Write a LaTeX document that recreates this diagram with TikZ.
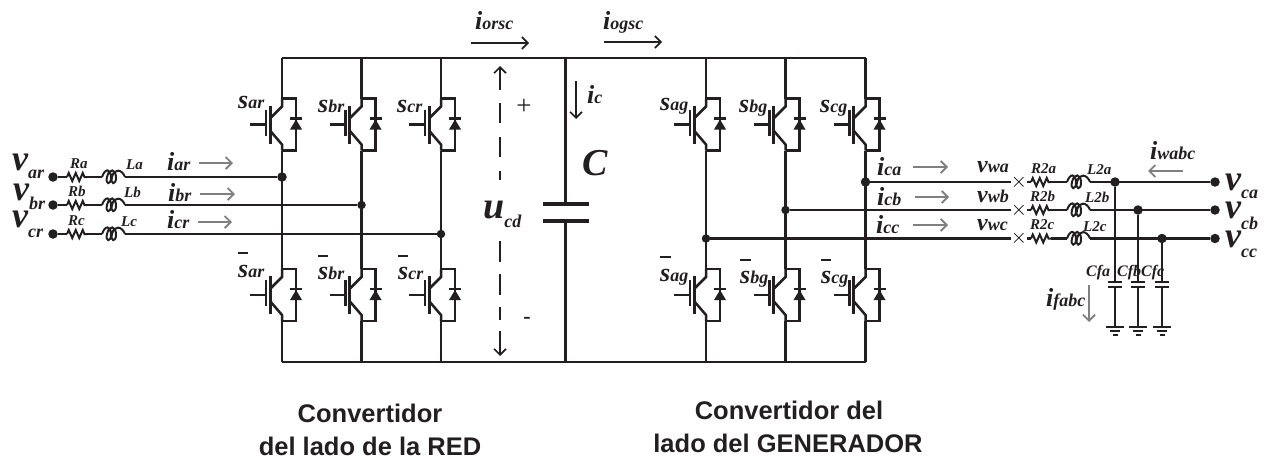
\documentclass[tikz,border=0pt]{standalone}
\usepackage{fontspec}
\setmainfont{Liberation Serif}
\newfontfamily\captionfont{Liberation Sans}
\usetikzlibrary{arrows.meta,decorations.pathmorphing}

\definecolor{wirecol}{HTML}{231F20}
\definecolor{flowcol}{HTML}{808080}

\newcommand{\bigbf}[1]{{\fontsize{26}{26}\selectfont\bfseries\itshape #1}}
\newcommand{\smallbf}[1]{{\fontsize{18}{18}\selectfont\bfseries\itshape #1}}
\newcommand{\hugebf}[1]{{\fontsize{36}{36}\selectfont\bfseries\itshape #1}}
\newcommand{\sublow}[2]{\raisebox{#1}{\fontsize{18}{18}\selectfont\bfseries\itshape #2}}

\tikzset{
    wire/.style={draw=wirecol, line width=2.5pt},
    heavy/.style={draw=wirecol, line width=2.9pt},
    flow/.style={draw=flowcol, line width=1.8pt, -{Straight Barb[length=6pt,width=12pt]}},
    blackflow/.style={draw=wirecol, line width=1.6pt, -{Straight Barb[length=6pt,width=12pt]}},
    lbl/.style={anchor=base west, inner sep=0pt, text=wirecol},
    elem/.style={lbl, font=\fontsize{15}{15}\selectfont\itshape\bfseries},
    dot/.style={circle, fill=wirecol, inner sep=0pt, minimum size=9.5pt},
    resist/.style={wire, line width=2pt, decorate, decoration={zigzag, segment length=7pt, amplitude=4pt}},
    inductor/.pic={
        \draw [wire, line width=2pt] (0,0) .. controls (3,-9) and (9,-9) .. (9,1)
            .. controls (9,8) and (3,8) .. (5,0)
            .. controls (7,-9) and (14,-9) .. (14,1)
            .. controls (14,8) and (8,8) .. (10,0)
            .. controls (12,-9) and (20,-8) .. (23,0);
    },
    igbt/.pic={
        \draw [wire] (0,-26) -- (14,-26) -- (14,26) -- (0,26);
        \draw [wire] (0,-26) -- (0,-18) -- (-12,-6);
        \draw [wire] (0,26) -- (0,20) -- (-12,6);
        \draw [wire, line width=3pt] (-12,-19) -- (-12,19);
        \draw [wire] (-16,-15) -- (-16,11);
        \draw [wire] (-32,0) -- (-16,0);
        \fill [wirecol] (14,-5) -- (20,5) -- (8,5) -- cycle;
        \draw [wire] (8,-6) -- (20,-6);
    },
    gnd/.pic={
        \draw [wire] (-9,0) -- (9,0);
        \draw [wire, line width=2pt] (-5,4) -- (5,4);
        \draw [wire, line width=2pt] (-2.5,8) -- (2.5,8);
    },
}

\begin{document}
\begin{tikzpicture}[x=1pt, y=-1pt]
    \useasboundingbox (0,0) rectangle (1269,458);

    % dc bus
    \coordinate (topl) at (282,58);
    \coordinate (topr) at (865.5,58);
    \coordinate (botl) at (282,362);
    \coordinate (botr) at (865.5,362);
    \draw [wire] (topl) -- (topr);
    \draw [heavy] (botl) -- (botr);

    % grid side bridge
    \pic at (282,124.5) {igbt};
    \pic at (361.5,124.5) {igbt};
    \pic at (441,124.5) {igbt};
    \pic at (282,295) {igbt};
    \pic at (361.5,295) {igbt};
    \pic at (441,295) {igbt};

    % generator side bridge
    \pic at (706,124.5) {igbt};
    \pic at (785.5,124.5) {igbt};
    \pic at (865.5,124.5) {igbt};
    \pic at (706,295) {igbt};
    \pic at (785.5,295) {igbt};
    \pic at (865.5,295) {igbt};

    % legs
    \draw [wire] (282,58) -- (282,98.5) (282,150.5) -- (282,269) (282,321) -- (282,362);
    \draw [wire] (361.5,58) -- (361.5,98.5) (361.5,150.5) -- (361.5,269) (361.5,321) -- (361.5,362);
    \draw [wire] (441,58) -- (441,98.5) (441,150.5) -- (441,269) (441,321) -- (441,362);
    \draw [wire] (706,58) -- (706,98.5) (706,150.5) -- (706,269) (706,321) -- (706,362);
    \draw [wire] (785.5,58) -- (785.5,98.5) (785.5,150.5) -- (785.5,269) (785.5,321) -- (785.5,362);
    \draw [wire] (865.5,58) -- (865.5,98.5) (865.5,150.5) -- (865.5,269) (865.5,321) -- (865.5,362);

    % grid side phases
    \node [dot] (vara) at (53,177) {};
    \node [dot] (varb) at (53,205) {};
    \node [dot] (varc) at (53,234) {};
    \node [dot] (jara) at (282,177) {};
    \node [dot, minimum size=8.5pt] (jarb) at (361.5,205) {};
    \node [dot, minimum size=8.5pt] (jarc) at (441,234) {};

    \coordinate (raa) at (67,177);
    \coordinate (rab) at (87,177);
    \coordinate (laa) at (102,177);
    \coordinate (lab) at (125,177);
    \coordinate (rba) at (67,205);
    \coordinate (rbb) at (87,205);
    \coordinate (lba) at (102,205);
    \coordinate (lbb) at (125,205);
    \coordinate (rca) at (67,234);
    \coordinate (rcb) at (87,234);
    \coordinate (lca) at (102,234);
    \coordinate (lcb) at (125,234);

    \draw [wire] (vara) -- (raa);
    \draw [resist] (raa) -- (rab);
    \draw [wire] (rab) -- (laa);
    \pic at (laa) {inductor};
    \draw [heavy] (lab) -- (jara);
    \draw [wire] (varb) -- (rba);
    \draw [resist] (rba) -- (rbb);
    \draw [wire] (rbb) -- (lba);
    \pic at (lba) {inductor};
    \draw [wire] (lbb) -- (jarb);
    \draw [wire] (varc) -- (rca);
    \draw [resist] (rca) -- (rcb);
    \draw [wire] (rcb) -- (lca);
    \pic at (lca) {inductor};
    \draw [wire] (lcb) -- (jarc);

    % generator side phases
    \node [dot] (jaca) at (865.5,182) {};
    \node [dot, minimum size=8.5pt] (jacb) at (785.5,210) {};
    \node [dot, minimum size=8.5pt] (jacc) at (706,238.5) {};
    \node [inner sep=0pt, font=\fontsize{22}{22}\selectfont] (xa) at (1019,182) {$\times$};
    \node [inner sep=0pt, font=\fontsize{22}{22}\selectfont] (xb) at (1019,210) {$\times$};
    \node [inner sep=0pt, font=\fontsize{22}{22}\selectfont] (xc) at (1019,238.5) {$\times$};
    \node [dot] (vca) at (1215,182) {};
    \node [dot] (vcb) at (1215,210) {};
    \node [dot] (vcc) at (1215,238.5) {};
    \node [dot] (jfa) at (1115,182) {};
    \node [dot] (jfb) at (1138,210) {};
    \node [dot] (jfc) at (1162,238.5) {};

    \coordinate (r2aa) at (1031,182);
    \coordinate (r2ab) at (1051,182);
    \coordinate (l2aa) at (1067,182);
    \coordinate (l2ab) at (1090,182);
    \coordinate (r2ba) at (1031,210);
    \coordinate (r2bb) at (1051,210);
    \coordinate (l2ba) at (1067,210);
    \coordinate (l2bb) at (1090,210);
    \coordinate (r2ca) at (1031,238.5);
    \coordinate (r2cb) at (1051,238.5);
    \coordinate (l2ca) at (1067,238.5);
    \coordinate (l2cb) at (1090,238.5);

    \draw [heavy] (jaca) -- (xa);
    \draw [wire] (xa) -- (r2aa);
    \draw [resist] (r2aa) -- (r2ab);
    \draw [wire] (r2ab) -- (l2aa);
    \pic at (l2aa) {inductor};
    \draw [heavy] (l2ab) -- (vca);
    \draw [wire] (jacb) -- (xb);
    \draw [wire] (xb) -- (r2ba);
    \draw [resist] (r2ba) -- (r2bb);
    \draw [wire] (r2bb) -- (l2ba);
    \pic at (l2ba) {inductor};
    \draw [wire] (l2bb) -- (vcb);
    \draw [wire] (jacc) -- (xc);
    \draw [wire] (xc) -- (r2ca);
    \draw [resist] (r2ca) -- (r2cb);
    \draw [wire] (r2cb) -- (l2ca);
    \pic at (l2ca) {inductor};
    \draw [wire] (l2cb) -- (vcc);

    % filter capacitors
    \coordinate (cfat) at (1115,282);
    \coordinate (cfab) at (1115,286.5);
    \coordinate (gfa) at (1115,327);
    \coordinate (cfbt) at (1138,282);
    \coordinate (cfbb) at (1138,286.5);
    \coordinate (gfb) at (1138,327);
    \coordinate (cfct) at (1162,282);
    \coordinate (cfcb) at (1162,286.5);
    \coordinate (gfc) at (1162,327);
    \draw [wire] (jfa) -- (cfat) (cfab) -- (gfa);
    \draw [wire] (jfb) -- (cfbt) (cfbb) -- (gfb);
    \draw [wire] (jfc) -- (cfct) (cfcb) -- (gfc);
    \draw [wire, line width=2pt] (1108,282) -- (1122,282) (1108,286.5) -- (1122,286.5);
    \draw [wire, line width=2pt] (1131,282) -- (1145,282) (1131,286.5) -- (1145,286.5);
    \draw [wire, line width=2pt] (1155,282) -- (1169,282) (1155,286.5) -- (1169,286.5);
    \pic at (1115,327) {gnd};
    \pic at (1138,327) {gnd};
    \pic at (1162,327) {gnd};

    % dc capacitor
    \coordinate (capt) at (565.5,204);
    \coordinate (capb) at (565.5,221);
    \draw [wire] (565.5,58) -- (capt);
    \draw [wire] (capb) -- (565.5,362);
    \draw [wire, line width=4.5pt] (543,204) -- (589,204);
    \draw [wire, line width=4.5pt] (543,221) -- (589,221);

    % dc voltage
    \coordinate (ucdt) at (500,66);
    \coordinate (ucdm) at (500,90);
    \coordinate (ucde) at (500,180);
    \coordinate (ucdf) at (500,241);
    \coordinate (ucdg) at (500,331);
    \coordinate (ucdb) at (500,356);
    \draw [blackflow] (ucdm) -- (ucdt);
    \draw [wirecol, line width=1.8pt, dash pattern=on 20pt off 14pt] (500,103) -- (ucde);
    \draw [wirecol, line width=1.8pt, dash pattern=on 21pt off 12pt] (ucdf) -- (500,320);
    \draw [blackflow] (ucdg) -- (ucdb);

    % current arrows
    \coordinate (oa) at (471,43);
    \coordinate (ob) at (529,43);
    \coordinate (oc) at (604,42);
    \coordinate (od) at (662,42);
    \draw [blackflow] (oa) -- (ob);
    \draw [blackflow] (oc) -- (od);
    \coordinate (ca) at (576,81);
    \coordinate (cb) at (576,119);
    \draw [blackflow] (ca) -- (cb);

    \coordinate (fa1) at (199,163);
    \coordinate (fa2) at (233,163);
    \coordinate (fb1) at (200,194);
    \coordinate (fb2) at (235,194);
    \coordinate (fc1) at (198,222);
    \coordinate (fc2) at (232,222);
    \draw [flow] (fa1) -- (fa2);
    \draw [flow] (fb1) -- (fb2);
    \draw [flow] (fc1) -- (fc2);
    \coordinate (ga1) at (913,167);
    \coordinate (ga2) at (948,167);
    \coordinate (gb1) at (915,197);
    \coordinate (gb2) at (949,197);
    \coordinate (gc1) at (913,225);
    \coordinate (gc2) at (948,225);
    \draw [flow] (ga1) -- (ga2);
    \draw [flow] (gb1) -- (gb2);
    \draw [flow] (gc1) -- (gc2);
    \coordinate (wa) at (1183,171);
    \coordinate (wb) at (1148,171);
    \draw [flow] (wa) -- (wb);
    \coordinate (fa) at (1089,285);
    \coordinate (fb) at (1089,322);
    \draw [flow] (fa) -- (fb);

    % labels, grid side
    \node [lbl] (lvar) at (12,170) {\hugebf{v}\sublow{-8pt}{ar}};
    \node [lbl] (lvbr) at (13,200) {\hugebf{v}\sublow{-9pt}{br}};
    \node [lbl] (lvcr) at (12,227) {\hugebf{v}\sublow{-10pt}{cr}};
    \node [elem] (lra) at (70,168) {Ra};
    \node [elem] (lrb) at (68,196) {Rb};
    \node [elem] (lrc) at (68,225) {Rc};
    \node [elem] (lla) at (126,169) {La};
    \node [elem] (llb) at (124,197) {Lb};
    \node [elem] (llc) at (121,226) {Lc};
    \node [lbl] (liar) at (167,170) {\bigbf{i}\smallbf{ar}};
    \node [lbl] (libr) at (168,201) {\bigbf{i}\smallbf{br}};
    \node [lbl] (licr) at (167,228) {\bigbf{i}\smallbf{cr}};

    % switch labels
    \node [lbl] (lsar) at (238,108) {\bigbf{s}\smallbf{ar}};
    \node [lbl] (lsbr) at (318,112) {\bigbf{s}\smallbf{br}};
    \node [lbl] (lscr) at (397,112) {\bigbf{s}\smallbf{cr}};
    \node [lbl] (lsag) at (660,110) {\bigbf{s}\smallbf{ag}};
    \node [lbl] (lsbg) at (739,112) {\bigbf{s}\smallbf{bg}};
    \node [lbl] (lscg) at (820,112) {\bigbf{s}\smallbf{cg}};
    \node [lbl] (lnar) at (238,277) {\bigbf{s}\smallbf{ar}};
    \node [lbl] (lnbr) at (318,279) {\bigbf{s}\smallbf{br}};
    \node [lbl] (lncr) at (398,279) {\bigbf{s}\smallbf{cr}};
    \node [lbl] (lnag) at (660,281) {\bigbf{s}\smallbf{ag}};
    \node [lbl] (lnbg) at (740,283) {\bigbf{s}\smallbf{bg}};
    \node [lbl] (lncg) at (821,283) {\bigbf{s}\smallbf{cg}};
    \draw [wire] (238,253) -- (248,253);
    \draw [wire] (318,256) -- (328,256);
    \draw [wire] (398,256) -- (408,256);
    \draw [wire] (660,257) -- (671,257);
    \draw [wire] (740,260) -- (751,260);
    \draw [wire] (821,260) -- (831,260);

    % labels, dc link
    \node [lbl] (liorsc) at (475,29) {\bigbf{i}\smallbf{orsc}};
    \node [lbl] (liogsc) at (603,29) {\bigbf{i}\smallbf{ogsc}};
    \node [lbl] (lic) at (587,103) {\bigbf{i}\smallbf{c}};
    \node [lbl] (lc) at (582,175) {{\fontsize{38}{38}\selectfont\bfseries\itshape C}};
    \node [lbl] (lucd) at (483,218) {{\fontsize{38}{38}\selectfont\bfseries\itshape u}\sublow{-9pt}{cd}};
    \node [inner sep=0pt, font=\fontsize{27}{27}\selectfont, text=wirecol] (lplus) at (524,107) {+};
    \node [inner sep=0pt, font=\fontsize{22}{22}\selectfont\bfseries, text=wirecol] (lminus) at (527,320) {-};

    % labels, generator side
    \node [lbl] (lica) at (877,175) {\bigbf{i}\smallbf{ca}};
    \node [lbl] (licb) at (877,205) {\bigbf{i}\smallbf{cb}};
    \node [lbl] (licc) at (876,233) {\bigbf{i}\smallbf{cc}};
    \node [lbl] (lvwa) at (977,172) {\smallbf{\fontsize{24}{24}\selectfont v}\smallbf{wa}};
    \node [lbl] (lvwb) at (977,202) {\smallbf{\fontsize{24}{24}\selectfont v}\smallbf{wb}};
    \node [lbl] (lvwc) at (977,230) {\smallbf{\fontsize{24}{24}\selectfont v}\smallbf{wc}};
    \node [elem] (lr2a) at (1031,173) {R2a};
    \node [elem] (lr2b) at (1030,201) {R2b};
    \node [elem] (lr2c) at (1030,229) {R2c};
    \node [elem] (ll2a) at (1087,174) {L2a};
    \node [elem] (ll2b) at (1085,202) {L2b};
    \node [elem] (ll2c) at (1083,231) {L2c};
    \node [lbl] (liw) at (1150,159) {\bigbf{i}\smallbf{wabc}};
    \node [lbl] (lvca) at (1225,190) {\hugebf{v}\sublow{-8pt}{ca}};
    \node [lbl] (lvcb) at (1225,218) {\hugebf{v}\sublow{-11pt}{cb}};
    \node [lbl] (lvcc) at (1225,247) {\hugebf{v}\sublow{-10pt}{cc}};
    \node [elem, font=\fontsize{16}{16}\selectfont\itshape\bfseries] (lcfa) at (1086,276) {Cfa};
    \node [elem, font=\fontsize{16}{16}\selectfont\itshape\bfseries] (lcfb) at (1117,276) {Cfb};
    \node [elem, font=\fontsize{16}{16}\selectfont\itshape\bfseries] (lcfc) at (1141,276) {Cfc};
    \node [lbl] (lif) at (1046,306) {\bigbf{i}\smallbf{fabc}};

    % captions
    \node [inner sep=0pt, anchor=base, font=\captionfont\bfseries\fontsize{25.5}{25.5}\selectfont, text=wirecol] (capa) at (370,422) {Convertidor};
    \node [inner sep=0pt, anchor=base, font=\captionfont\bfseries\fontsize{25.5}{25.5}\selectfont, text=wirecol] (capb1) at (370,455) {del lado de la RED};
    \node [inner sep=0pt, anchor=base, font=\captionfont\bfseries\fontsize{25.5}{25.5}\selectfont, text=wirecol] (capc) at (789,419) {Convertidor del};
    \node [inner sep=0pt, anchor=base, font=\captionfont\bfseries\fontsize{25.5}{25.5}\selectfont, text=wirecol] (capd) at (788,452) {lado del GENERADOR};
\end{tikzpicture}
\end{document}
